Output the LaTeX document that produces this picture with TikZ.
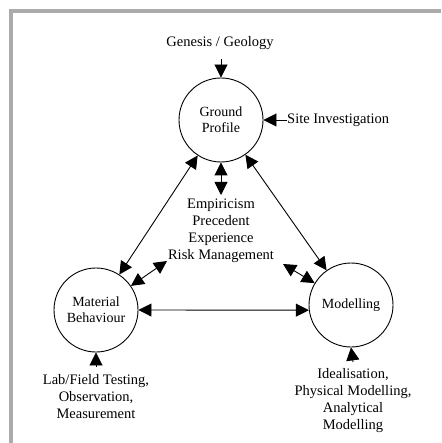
\documentclass[tikz,border=0pt]{standalone}
\usepackage{fontspec}
\setmainfont{Liberation Serif}
\usetikzlibrary{arrows.meta}
\begin{document}
\begin{tikzpicture}[x=1pt,y=-1pt,
  circ/.style={draw, circle, line width=0.9pt, minimum size=84pt, inner sep=0pt, align=center, font=\fontsize{14}{16}\selectfont},
  lbl/.style={align=center, inner sep=0pt, font=\fontsize{14.5}{17}\selectfont},
  head/.tip={Triangle[length=13pt,width=13pt]},
  link/.style={line width=0.9pt, head-head},
  feed/.style={line width=0.9pt, -head}]
\useasboundingbox (0,0) rectangle (441,443);
\fill[white] (0,0) rectangle (441,443);
% frame, open on the right and bottom
\draw[line width=4pt, color=black!33] (11,443) -- (11,11) -- (441,11);

% the three circles
\node[circ] (gp) at (221,120) {Ground\\Profile};
\node[circ] (mb) at (96,310) {Material\\Behaviour};
\node[circ] (mo) at (351,305) {Modelling};

% outside inputs
\node[lbl] (gen) at (220,43) {Genesis / Geology};
\node[lbl, anchor=west] (site) at (287,120) {Site Investigation};
\node[lbl] (lab) at (96,397) {Lab/Field Testing,\\Observation,\\Measurement};
\node[lbl] (ideal) at (353,401) {Idealisation,\\Physical Modelling,\\Analytical\\Modelling};
\node[lbl] (emp) at (221,231) {Empiricism\\Precedent\\Experience\\Risk Management};

\coordinate (genb) at (221,59);
\coordinate (labt) at (96,367);
\coordinate (idealt) at (353,362);
\coordinate (empt) at (221,195);
\coordinate (empl) at (167,261);
\coordinate (empr) at (283,264);

\draw[feed] (genb) -- (gp.north);
\draw[feed] (site.west) -- (gp.east);
\draw[feed] (labt) -- (mb.south);
\draw[feed] (idealt) -- (mo.south);

% links between the circles
\draw[link] (gp) -- (mb);
\draw[link] (gp) -- (mo);
\draw[link] (mb.east) -- (mo.187);

% links to the centre
\draw[link] (gp.south) -- (empt);
\draw[link] (mb) -- (empl);
\draw[link] (mo) -- (empr);
\end{tikzpicture}
\end{document}
